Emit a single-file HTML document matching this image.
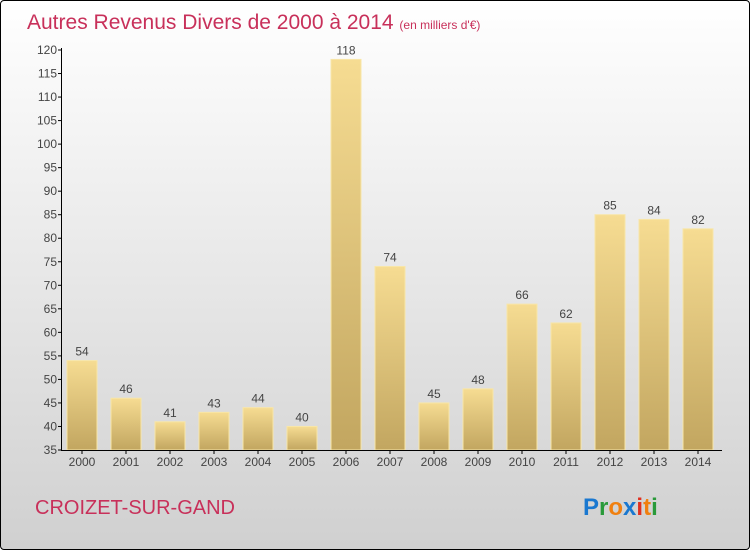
<!DOCTYPE html>
<html><head><meta charset="utf-8"><style>
body{margin:0;width:750px;height:550px;overflow:hidden;font-family:"Liberation Sans",sans-serif}
#c{position:absolute;left:0;top:0;width:748px;height:548px;border:1px solid #000;border-radius:4px;background:linear-gradient(#ffffff,#d0d0d0)}
</style></head><body>
<div id="c"></div>
<svg id="s" width="750" height="550" style="position:absolute;left:0;top:0">
<defs><linearGradient id="g" x1="0" y1="0" x2="0" y2="1"><stop offset="0" stop-color="#f6dc92"/><stop offset="1" stop-color="#c2a660"/></linearGradient></defs>
<text x="27" y="29" font-size="21" fill="#c8305a">Autres Revenus Divers de 2000 à 2014 <tspan font-size="12">(en milliers d'€)</tspan></text>
<text x="35" y="514" font-size="20" fill="#c8305a">CROIZET-SUR-GAND</text>
<text x="583" y="515" font-size="24" font-weight="bold"><tspan fill="#1a78d0">P</tspan><tspan fill="#2a9a3a">r</tspan><tspan fill="#f08010">o</tspan><tspan fill="#1a78d0">x</tspan><tspan fill="#e03020">i</tspan><tspan fill="#f08010">t</tspan><tspan fill="#2a9a3a">i</tspan></text>
</svg>
<script>
const years=["2000","2001","2002","2003","2004","2005","2006","2007","2008","2009","2010","2011","2012","2013","2014"];
const values=[54,46,41,43,44,40,118,74,45,48,66,62,85,84,82];
const yTicks=[35,40,45,50,55,60,65,70,75,80,85,90,95,100,105,110,115,120];
const s=document.getElementById('s'),NS="http://www.w3.org/2000/svg";
const y=v=>450-(v-35)*400/85, x=i=>82+i*44;
function mk(t,a,txt){const e=document.createElementNS(NS,t);for(const k in a)e.setAttribute(k,a[k]);if(txt!=null)e.textContent=txt;s.appendChild(e);return e;}
values.forEach((v,i)=>{
 const r=mk('rect',{x:x(i)-15,y:y(v),width:30,height:450-y(v),fill:'url(#g)',stroke:'#f8e6a8','stroke-width':1});
 
 
 const t=mk('text',{x:x(i),y:y(v)-5,'font-size':12,'text-anchor':'middle',fill:'#444'},v);
 
 
 const l=mk('text',{x:x(i),y:466,'font-size':12,'text-anchor':'middle',fill:'#444'},years[i]);
 
 
 mk('line',{x1:x(i),x2:x(i),y1:450,y2:454,stroke:'#000'});
});
yTicks.forEach(v=>{
 mk('line',{x1:58,x2:62,y1:y(v),y2:y(v),stroke:'#000'});
 const t=mk('text',{x:57,y:y(v)+4,'font-size':12,'text-anchor':'end',fill:'#444'},v);
 
 
});
const ya=mk('line',{x1:61.5,x2:61.5,y1:48,y2:450,stroke:'#000'});


const xa=mk('line',{x1:61,x2:722,y1:450.5,y2:450.5,stroke:'#000'});


</script>
</body></html>
